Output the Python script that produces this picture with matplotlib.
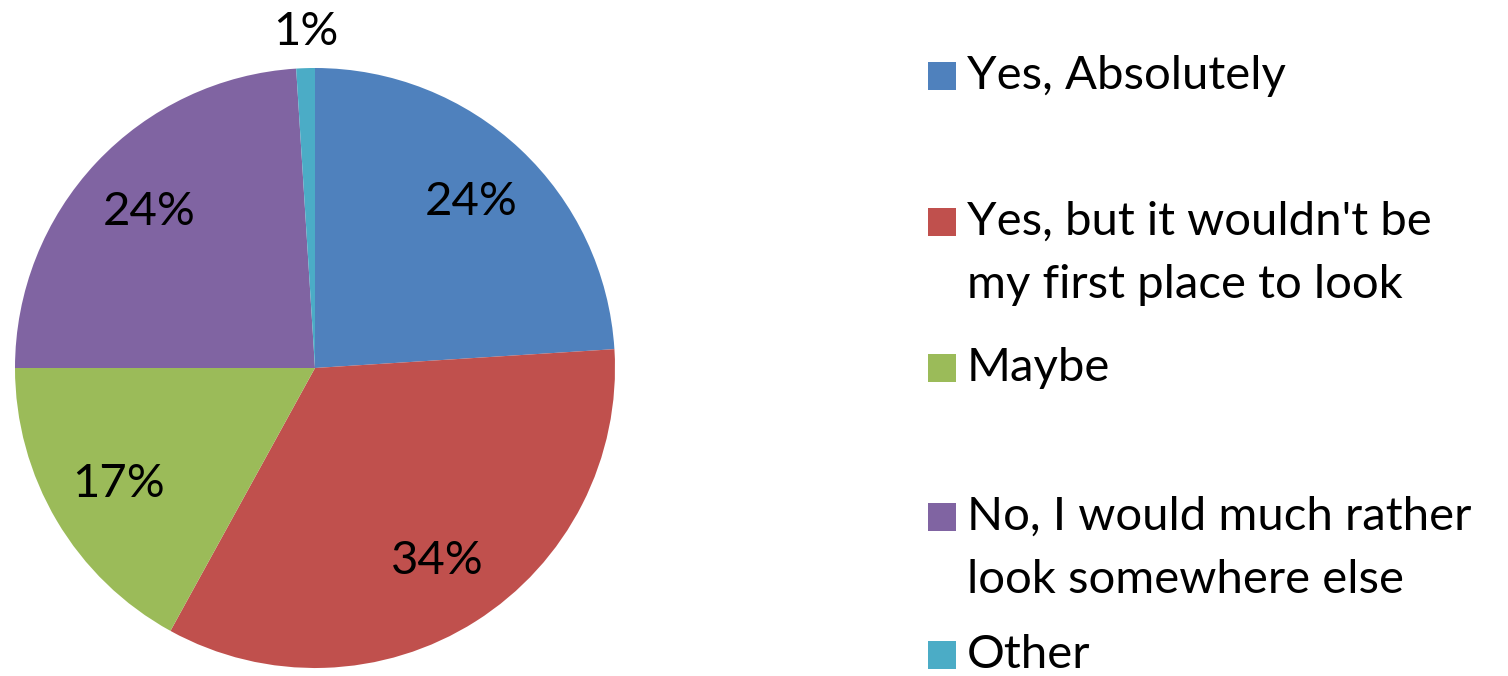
import matplotlib.pyplot as plt
import matplotlib.patches as patches

categories = [
    "Yes, Absolutely",
    "Yes, but it wouldn't be\nmy first place to look",
    "Maybe",
    "No, I would much rather\nlook somewhere else",
    "Other",
]
shares = [24, 34, 17, 24, 1]
colors = ["#4F81BD", "#C0504D", "#9BBB59", "#8064A2", "#4BACC6"]

W, H = 1508, 676
FONT = "Lato"
FS = 34

fig = plt.figure(figsize=(W / 100, H / 100), dpi=100)

cx, cy, r = 315, 676 - 368, 300
ax = fig.add_axes([(cx - r) / W, (cy - r) / H, 2 * r / W, 2 * r / H])
wedges, texts, autotexts = ax.pie(
    shares,
    colors=colors,
    startangle=90,
    counterclock=False,
    autopct="%d%%",
    pctdistance=0.76,
    textprops={"fontsize": FS, "family": FONT, "color": "black"},
)
ax.set_xlim(-1, 1)
ax.set_ylim(-1, 1)
ax.set_aspect("equal")

# small slice label sits outside the pie
autotexts[-1].set_position((-0.03, 1.12))

# legend drawn by hand: square sits beside the first line of each entry
first_line_y = [76, 222, 368, 517, 655]
line_gap = 63
sq = 28
for y, label, c in zip(first_line_y, categories, colors):
    fig.patches.append(
        patches.Rectangle((928 / W, (H - y - sq / 2) / H), sq / W, sq / H,
                          transform=fig.transFigure, facecolor=c, edgecolor="none")
    )
    for i, line in enumerate(label.split("\n")):
        fig.text(967 / W, (H - y - i * line_gap) / H, line, ha="left", va="center",
                 fontsize=FS, family=FONT)

fig.savefig("out.png", dpi=100)
